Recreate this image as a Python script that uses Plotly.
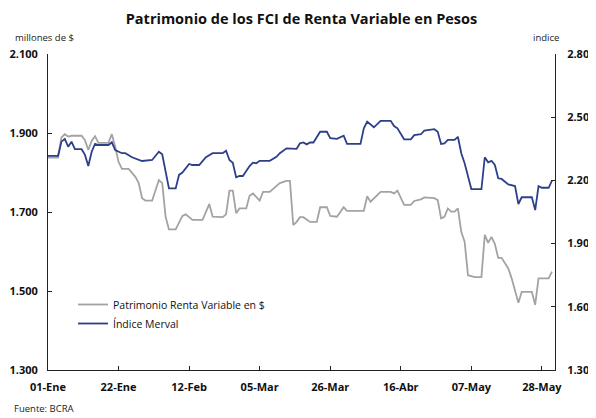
import pandas as pd
import plotly.graph_objects as go

# ---- data ----
start_date = "2007-01-01"

merval_days = [0, 3, 4, 5, 6, 7, 8, 10, 11, 12, 13, 14, 15, 18, 19, 20, 22, 23, 25, 27, 28, 31, 33, 34,
               36, 38, 39, 40, 42, 43, 45, 47, 49, 52, 53, 54, 55, 56, 57, 58, 60, 61, 62, 63, 66, 68,
               69, 71, 72, 74, 75, 76, 77, 78, 79, 81, 83, 84, 86, 88, 89, 93, 94, 95, 97, 99, 102,
               103, 104, 106, 108, 109, 111, 112, 115, 116, 117, 118, 119, 121, 122, 123, 124, 126,
               129, 130, 131, 132, 133, 134, 135, 137, 139, 140, 141, 144, 145, 146, 147, 149, 150]
merval_values = [2316, 2317, 2384, 2397, 2360, 2384, 2348, 2348, 2321, 2268, 2336, 2373, 2368, 2368,
                 2381, 2344, 2329, 2329, 2310, 2300, 2292, 2297, 2336, 2324, 2162, 2162, 2226, 2237,
                 2278, 2273, 2273, 2310, 2329, 2329, 2341, 2297, 2284, 2215, 2221, 2221, 2268, 2284,
                 2281, 2293, 2293, 2312, 2329, 2352, 2352, 2350, 2376, 2380, 2371, 2380, 2380, 2431,
                 2431, 2400, 2397, 2412, 2373, 2373, 2447, 2479, 2452, 2483, 2483, 2458, 2447, 2395,
                 2395, 2415, 2419, 2436, 2443, 2431, 2373, 2376, 2392, 2392, 2407, 2329, 2281, 2159,
                 2159, 2310, 2286, 2293, 2273, 2210, 2207, 2181, 2173, 2088, 2120, 2120, 2059, 2173,
                 2165, 2165, 2199]

fci_days = [0, 3, 4, 5, 6, 7, 10, 11, 12, 13, 14, 15, 18, 19, 20, 21, 22, 24, 26, 27, 28, 29, 31, 32,
            33, 34, 35, 36, 38, 40, 41, 43, 46, 48, 49, 52, 53, 54, 55, 56, 57, 59, 60, 61, 63, 64,
            66, 69, 71, 72, 73, 74, 75, 76, 78, 80, 81, 83, 84, 86, 88, 89, 94, 95, 96, 99, 102,
            103, 104, 106, 108, 109, 111, 112, 115, 116, 117, 118, 119, 120, 121, 122, 123, 124,
            125, 127, 129, 130, 131, 132, 133, 134, 135, 137, 138, 140, 141, 144, 145, 146, 149, 150]
fci_values = [1838, 1838, 1889, 1897, 1891, 1893, 1893, 1882, 1857, 1880, 1892, 1875, 1875, 1897,
              1865, 1827, 1809, 1809, 1789, 1773, 1735, 1729, 1729, 1756, 1781, 1773, 1688, 1656,
              1656, 1690, 1694, 1680, 1680, 1720, 1688, 1687, 1694, 1754, 1754, 1697, 1709, 1709,
              1741, 1747, 1729, 1751, 1751, 1773, 1779, 1779, 1667, 1675, 1687, 1687, 1675, 1675,
              1712, 1712, 1690, 1688, 1712, 1703, 1703, 1740, 1726, 1751, 1751, 1747, 1754, 1718,
              1718, 1728, 1732, 1737, 1735, 1730, 1684, 1688, 1709, 1701, 1701, 1709, 1650, 1625,
              1540, 1535, 1535, 1642, 1622, 1637, 1619, 1584, 1584, 1557, 1532, 1470, 1498, 1498,
              1465, 1532, 1532, 1549]

series_names = ["Patrimonio Renta Variable en $", "Índice Merval"]

x_tick_days = [0, 21, 42, 63, 84, 105, 126, 147]
x_tick_labels = ["01-Ene", "22-Ene", "12-Feb", "05-Mar", "26-Mar", "16-Abr", "07-May", "28-May"]

left_ticks = [1300, 1500, 1700, 1900, 2100]
left_labels = ["1.300", "1.500", "1.700", "1.900", "2.100"]
right_ticks = [1300, 1600, 1900, 2200, 2500, 2800]
right_labels = ["1.300", "1.600", "1.900", "2.200", "2.500", "2.800"]

# ---- build ----
t0 = pd.Timestamp(start_date)
to_dates = lambda days: [t0 + pd.Timedelta(days=d) for d in days]

FONT = "Open Sans"
GREY = "#A3A3A3"
BLUE = "#2E3F8A"

fig = go.Figure()
fig.add_trace(go.Scatter(x=to_dates(fci_days), y=fci_values, mode="lines",
                         name=series_names[0], line=dict(color=GREY, width=1.8), yaxis="y"))
fig.add_trace(go.Scatter(x=to_dates(merval_days), y=merval_values, mode="lines",
                         name=series_names[1], line=dict(color=BLUE, width=1.8), yaxis="y2"))

# the page body adds an 8px margin, so the figure is drawn 8px smaller and shifted
OFF = 8
W, H = 596 - OFF, 418 - OFF
L, T = 48 - OFF, 54 - OFF
pw, ph = 507, 316
R, B = W - L - pw, H - T - ph

axis_common = dict(showgrid=False, zeroline=False, showline=True, linecolor="#222",
                   linewidth=1, tickcolor="#222", ticklen=4, tickwidth=1, ticks="inside",
                   tickfont=dict(family=FONT, size=11, color="#111", weight="bold"))

def px_x(x):  # screen px -> paper x
    return (x - OFF - L) / pw

def px_y(y):  # screen px -> paper y
    return 1 - (y - OFF - T) / ph

fig.update_layout(
    width=W, height=H,
    margin=dict(l=L, r=R, t=T, b=B, autoexpand=False),
    paper_bgcolor="white", plot_bgcolor="white",
    font=dict(family=FONT, color="#111"),
    title=dict(text="<b>Patrimonio de los FCI de Renta Variable en Pesos</b>",
               x=0.5, xref="paper", xanchor="center", y=1 - (19 - OFF) / H, yanchor="middle",
               font=dict(family=FONT, size=14.5, color="#111")),
    xaxis=dict(type="date",
               range=[t0, t0 + pd.Timedelta(days=150.9)],
               tickvals=to_dates(x_tick_days), ticktext=x_tick_labels,
               ticklabelstandoff=7, **axis_common),
    yaxis=dict(range=[1300, 2100], tickvals=left_ticks, ticktext=left_labels,
               ticklabelstandoff=7, **axis_common),
    yaxis2=dict(range=[1300, 2800], tickvals=right_ticks, ticktext=right_labels,
                overlaying="y", side="right", ticklabelstandoff=9, **axis_common),
    showlegend=True,
    legend=dict(x=px_x(73), y=1 - (290 - OFF) / H, xref="paper",
                yref="container", xanchor="left", yanchor="top",
                font=dict(family=FONT, size=10.5, color="#111"),
                bgcolor="rgba(0,0,0,0)", tracegroupgap=0, itemwidth=30),
    annotations=[
        dict(text="millones de $", xref="paper", yref="paper", x=px_x(13), y=px_y(38),
             xanchor="left", yanchor="middle", showarrow=False,
             font=dict(family=FONT, size=9.5, color="#222")),
        dict(text="indice", xref="paper", yref="paper", x=px_x(561), y=px_y(38),
             xanchor="right", yanchor="middle", showarrow=False,
             font=dict(family=FONT, size=9.5, color="#222")),
        dict(text="Fuente: BCRA", xref="paper", yref="paper", x=px_x(12), y=px_y(408),
             xanchor="left", yanchor="middle", showarrow=False,
             font=dict(family=FONT, size=9.5, color="#222")),
    ],
)

fig.write_html("out.html")
